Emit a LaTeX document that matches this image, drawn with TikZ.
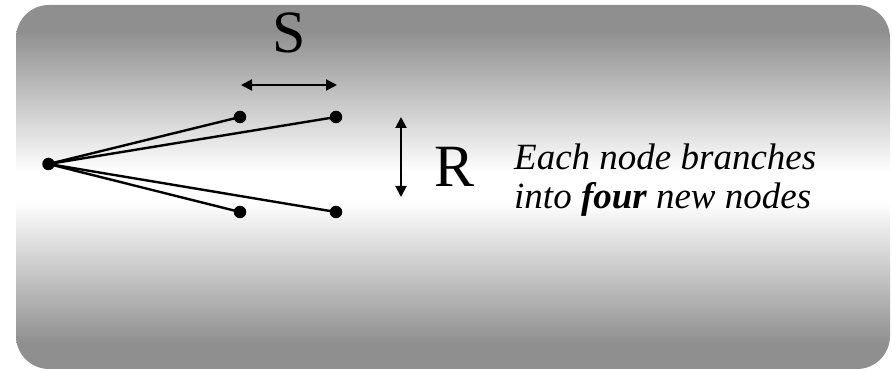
\documentclass[tikz,border=0pt]{standalone}
\usepackage{fontspec}
\setmainfont{Liberation Serif}
\usetikzlibrary{arrows.meta}
\definecolor{panelgray}{RGB}{143,143,143}
\pgfdeclareverticalshading{panelshade}{100bp}{%
  color(0bp)=(panelgray);
  color(25bp)=(panelgray);
  color(28.5bp)=(panelgray);
  color(48bp)=(white);
  color(52bp)=(white);
  color(71.5bp)=(panelgray);
  color(75bp)=(panelgray);
  color(100bp)=(panelgray)}
\begin{document}
\begin{tikzpicture}[x=1pt,y=-1pt,
  dot/.style={circle,fill=black,inner sep=0pt,minimum size=12.5pt},
  branch/.style={line width=2.4pt},
  dim/.style={line width=2pt,{Triangle[length=11pt,width=11pt]}-{Triangle[length=11pt,width=11pt]}},
  big/.style={font=\fontsize{60}{60}\selectfont,inner sep=0pt},
  note/.style={font=\fontsize{37}{39}\selectfont\itshape,inner sep=0pt}]
\useasboundingbox (0,0) rectangle (892,371);
\shade[rounded corners=33pt,shading=panelshade]
  (16,5) rectangle (890,369);
\node[dot] (root) at (48.5,164) {};
\node[dot] (un) at (240,117) {};
\node[dot] (uf) at (336,117) {};
\node[dot] (ln) at (240,212) {};
\node[dot] (lf) at (336,212) {};
\draw[branch] (root.center) -- (un.center);
\draw[branch] (root.center) -- (uf.center);
\draw[branch] (root.center) -- (ln.center);
\draw[branch] (root.center) -- (lf.center);
\coordinate (sl) at (241,85);
\coordinate (sr) at (337,85);
\draw[dim] (sl) -- (sr);
\node[big,anchor=base] (S) at (289,53) {S};
\coordinate (rt) at (401,117);
\coordinate (rb) at (401,197);
\draw[dim] (rt) -- (rb);
\node[big,anchor=base west] (R) at (434,187) {R};
\node[note,anchor=base west] (l1) at (514,170) {Each node branches};
\node[note,anchor=base west] (l2) at (514,209) {into \textbf{four} new nodes};
\end{tikzpicture}
\end{document}
